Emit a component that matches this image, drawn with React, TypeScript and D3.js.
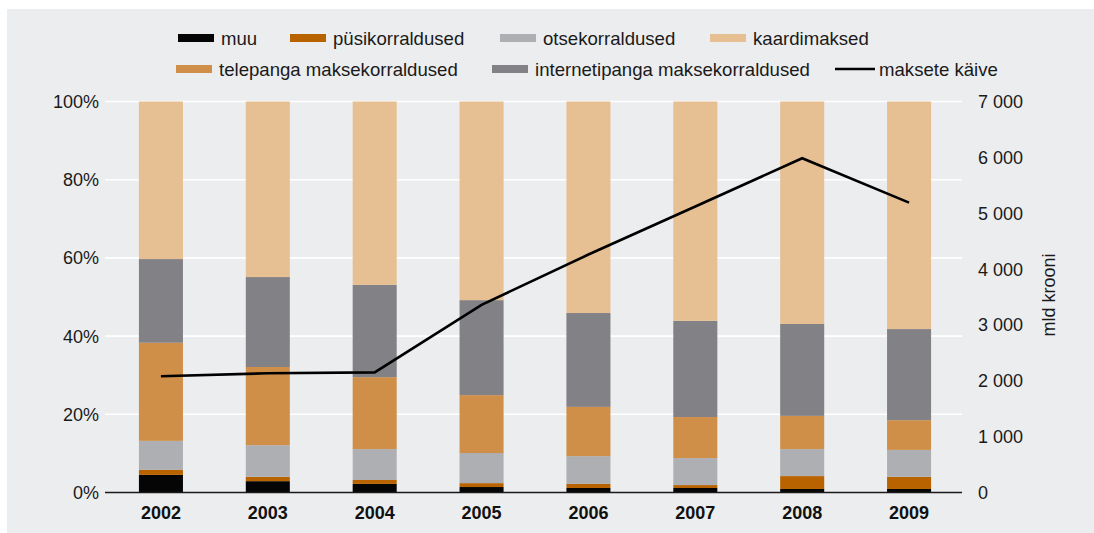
import React from "react";
import * as d3 from "d3";

const years = ["2002", "2003", "2004", "2005", "2006", "2007", "2008", "2009"];
const muu = [4.5, 2.9, 2.2, 1.4, 1.15, 1.15, 0.9, 0.9];
const pusi = [1.3, 1.1, 1.0, 1.0, 1.05, 0.75, 3.3, 3.1];
const otse = [7.4, 8.1, 7.9, 7.7, 7.1, 6.9, 6.9, 6.9];
const tele = [25.1, 20.0, 18.4, 14.8, 12.6, 10.5, 8.5, 7.6];
const internet = [21.4, 23.0, 23.6, 24.3, 24.0, 24.6, 23.5, 23.3];
const kaardi = [40.3, 44.9, 46.9, 50.8, 54.1, 56.1, 56.9, 58.2];
const kaive = [2080, 2135, 2150, 3360, 4260, 5120, 5985, 5190];

const seriesKeys = ["muu", "pusi", "otse", "tele", "internet", "kaardi"];
const seriesNames: Record<string, string> = {
  muu: "muu",
  pusi: "püsikorraldused",
  otse: "otsekorraldused",
  kaardi: "kaardimaksed",
  tele: "telepanga maksekorraldused",
  internet: "internetipanga maksekorraldused",
};
const seriesColors: Record<string, string> = {
  muu: "#050505",
  pusi: "#B96300",
  otse: "#AEAFB2",
  tele: "#CF8F48",
  internet: "#828185",
  kaardi: "#E6BF92",
};
const leftTicks = [0, 20, 40, 60, 80, 100];
const rightTicks = [0, 1000, 2000, 3000, 4000, 5000, 6000, 7000];
const lineName = "maksete käive";
const rightTitle = "mld krooni";

const W = 1094;
const H = 533;
const FONT = "'Liberation Sans', Arial, Helvetica, sans-serif";
const LEG_FS = 18.6;

export default function App() {
  const table = years.map((y, i) => ({
    year: y,
    muu: muu[i],
    pusi: pusi[i],
    otse: otse[i],
    tele: tele[i],
    internet: internet[i],
    kaardi: kaardi[i],
  }));
  const stacked = d3.stack<any>().keys(seriesKeys)(table);

  const x = d3.scaleBand().domain(years).range([107.5, 962.5]).paddingInner(0.588).paddingOuter(0.294);
  const yL = d3.scaleLinear().domain([0, 100]).range([492.5, 101.5]);
  const yR = d3.scaleLinear().domain([0, 7000]).range([492.5, 101.5]);

  const line = d3
    .line<number>()
    .x((_, i) => (x(years[i]) as number) + x.bandwidth() / 2)
    .y((d) => yR(d));

  const fmtR = (v: number) => d3.format(",")(v).replace(/,/g, " ");

  const legendRow1 = [
    { key: "muu", x: 178 },
    { key: "pusi", x: 290 },
    { key: "otse", x: 500 },
    { key: "kaardi", x: 710 },
  ];
  const legendRow2 = [
    { key: "tele", x: 176 },
    { key: "internet", x: 492 },
  ];

  return (
    <svg
      width={W}
      height={H}
      style={{ position: "absolute", left: 0, top: 0, fontFamily: FONT }}
    >
      <rect x={0} y={0} width={W} height={H} fill="#ffffff" />
      <rect x={7} y={9} width={W - 7} height={H - 9} fill="#ECEDEF" />

      {leftTicks.filter((t) => t > 0).map((t) => (
        <line key={t} x1={105} x2={962} y1={yL(t)} y2={yL(t)} stroke="#ffffff" strokeWidth={1.6} />
      ))}

      {stacked.map((s) => (
        <g key={s.key} fill={seriesColors[s.key]}>
          {s.map((d, i) => (
            <rect
              key={i}
              x={x(years[i])}
              width={x.bandwidth()}
              y={yL(d[1])}
              height={yL(d[0]) - yL(d[1])}
            />
          ))}
        </g>
      ))}

      <line x1={105} x2={962} y1={yL(0)} y2={yL(0)} stroke="#1a1a1a" strokeWidth={1.3} />

      <path d={line(kaive) || ""} fill="none" stroke="#000" strokeWidth={2.6} strokeLinejoin="miter" />

      {leftTicks.map((t) => (
        <text key={t} x={99} y={yL(t)} dy="0.36em" textAnchor="end" fontSize={18} fill="#1a1a1a">
          {t}%
        </text>
      ))}

      {rightTicks.map((t) => (
        <text key={t} x={978} y={yR(t)} dy="0.36em" textAnchor="start" fontSize={18} fill="#1a1a1a">
          {fmtR(t)}
        </text>
      ))}
      <text
        transform={`translate(1055,295) rotate(-90)`}
        textAnchor="middle"
        fontSize={18}
        fill="#1a1a1a"
      >
        {rightTitle}
      </text>

      {years.map((y) => (
        <text
          key={y}
          x={(x(y) as number) + x.bandwidth() / 2}
          y={513}
          dy="0.36em"
          textAnchor="middle"
          fontSize={18}
          fontWeight="bold"
          fill="#111"
        >
          {y}
        </text>
      ))}

      {legendRow1.map((l) => (
        <g key={l.key}>
          <rect x={l.x} y={34} width={36} height={8} fill={seriesColors[l.key]} />
          <text x={l.x + 43} y={38} dy="0.36em" fontSize={LEG_FS} fill="#1a1a1a">
            {seriesNames[l.key]}
          </text>
        </g>
      ))}
      {legendRow2.map((l) => (
        <g key={l.key}>
          <rect x={l.x} y={65} width={36} height={8} fill={seriesColors[l.key]} />
          <text x={l.x + 43} y={69} dy="0.36em" fontSize={LEG_FS} fill="#1a1a1a">
            {seriesNames[l.key]}
          </text>
        </g>
      ))}
      <line x1={835} x2={875} y1={69} y2={69} stroke="#000" strokeWidth={2.6} />
      <text x={879} y={69} dy="0.36em" fontSize={LEG_FS} fill="#1a1a1a">
        {lineName}
      </text>
    </svg>
  );
}
